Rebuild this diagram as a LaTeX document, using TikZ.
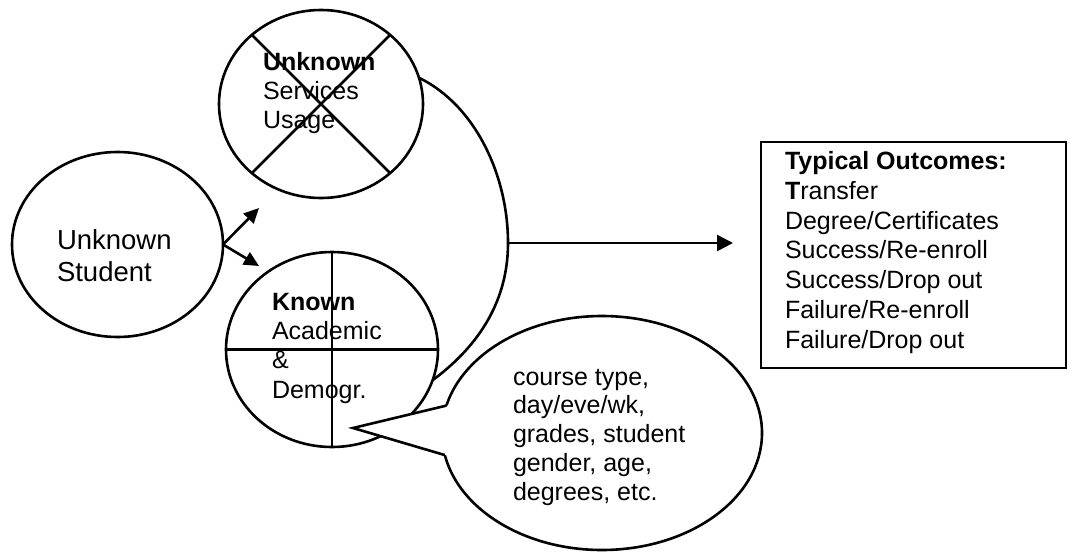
\documentclass[tikz,border=0pt]{standalone}
\usepackage{fontspec}
\setmainfont{Liberation Sans}
\usetikzlibrary{shapes.geometric,arrows.meta}
\newcommand{\fsz}[2]{\fontsize{#1pt}{#2pt}\selectfont}
\begin{document}
\begin{tikzpicture}[x=1pt,y=-1pt,
  line width=2.6pt,
  oval/.style={ellipse,draw,inner sep=0pt,outer sep=0pt},
  txt/.style={anchor=base west,align=left,inner sep=0pt,outer sep=0pt},
  smallarr/.style={-{Triangle[length=15pt,width=14pt]}},
  bigarr/.style={-{Triangle[length=16pt,width=16pt]}},
  boxstyle/.style={draw,rectangle,anchor=north west,inner sep=0pt,outer sep=0pt}]
\useasboundingbox (0,0) rectangle (1069,552);

% Unknown student
\node[oval,minimum width=211pt,minimum height=185pt] (stu) at (117.5,244.5) {};
\node[txt,font=\fsz{27.5}{32}] (stut) at (57,281) {Unknown\\Student};

% Unknown services usage (crossed out)
\node[oval,minimum width=204pt,minimum height=188pt] (top) at (321,104) {};
\draw (top.135) -- (top.-45);
\draw (top.45) -- (top.-135);
\node[txt,font=\fsz{25}{29}] (topt) at (263,128) {\textbf{Unknown}\\Services\\Usage};

% Known academic & demographic
\node[oval,minimum width=212pt,minimum height=195pt] (kn) at (332,349.5) {};
\draw (kn.west) -- (kn.east);
\draw (kn.north) -- (kn.south);
\node[txt,font=\fsz{25}{29.3}] (knt) at (272,398) {\textbf{Known}\\Academic\\\&\\Demogr.};

% arrows from student
\coordinate (a1) at (259,208);
\coordinate (a2) at (259,266);
\draw[smallarr] (stu.east) -- (a1);
\draw[smallarr] (stu.east) -- (a2);

% big bracket arc and arrow
\coordinate (arcr) at (508,243);
\draw (top.15) .. controls (475,105) and (508,175) .. (arcr)
      .. controls (508,300) and (480,345) .. (kn.-17);
\coordinate (tipout) at (733,243);
\draw[bigarr] (arcr) -- (tipout);

% outcomes box
\node[boxstyle,minimum width=305pt,minimum height=226pt] (out) at (761,142) {};
\node[txt,font=\fsz{25}{29.7}] (outt) at (785,348) {\textbf{Typical Outcomes:}\\\textbf{T}ransfer\\Degree/Certificates\\Success/Re-enroll\\Success/Drop out\\Failure/Re-enroll\\Failure/Drop out};

% callout bubble
\node[oval,fill=white,minimum width=320pt,minimum height=234pt] (bub) at (602,433) {};
\coordinate (tip) at (353,428);
\fill[white] (bub.170) -- (tip) -- (bub.188) -- ([xshift=10pt]bub.188) -- ([xshift=10pt]bub.170) -- cycle;
\draw[line join=miter] (bub.170) -- (tip) -- (bub.188);
\node[txt,font=\fsz{25}{28.7}] (bubt) at (513,500) {course type,\\day/eve/wk,\\grades, student\\gender, age,\\degrees, etc.};
\end{tikzpicture}
\end{document}
